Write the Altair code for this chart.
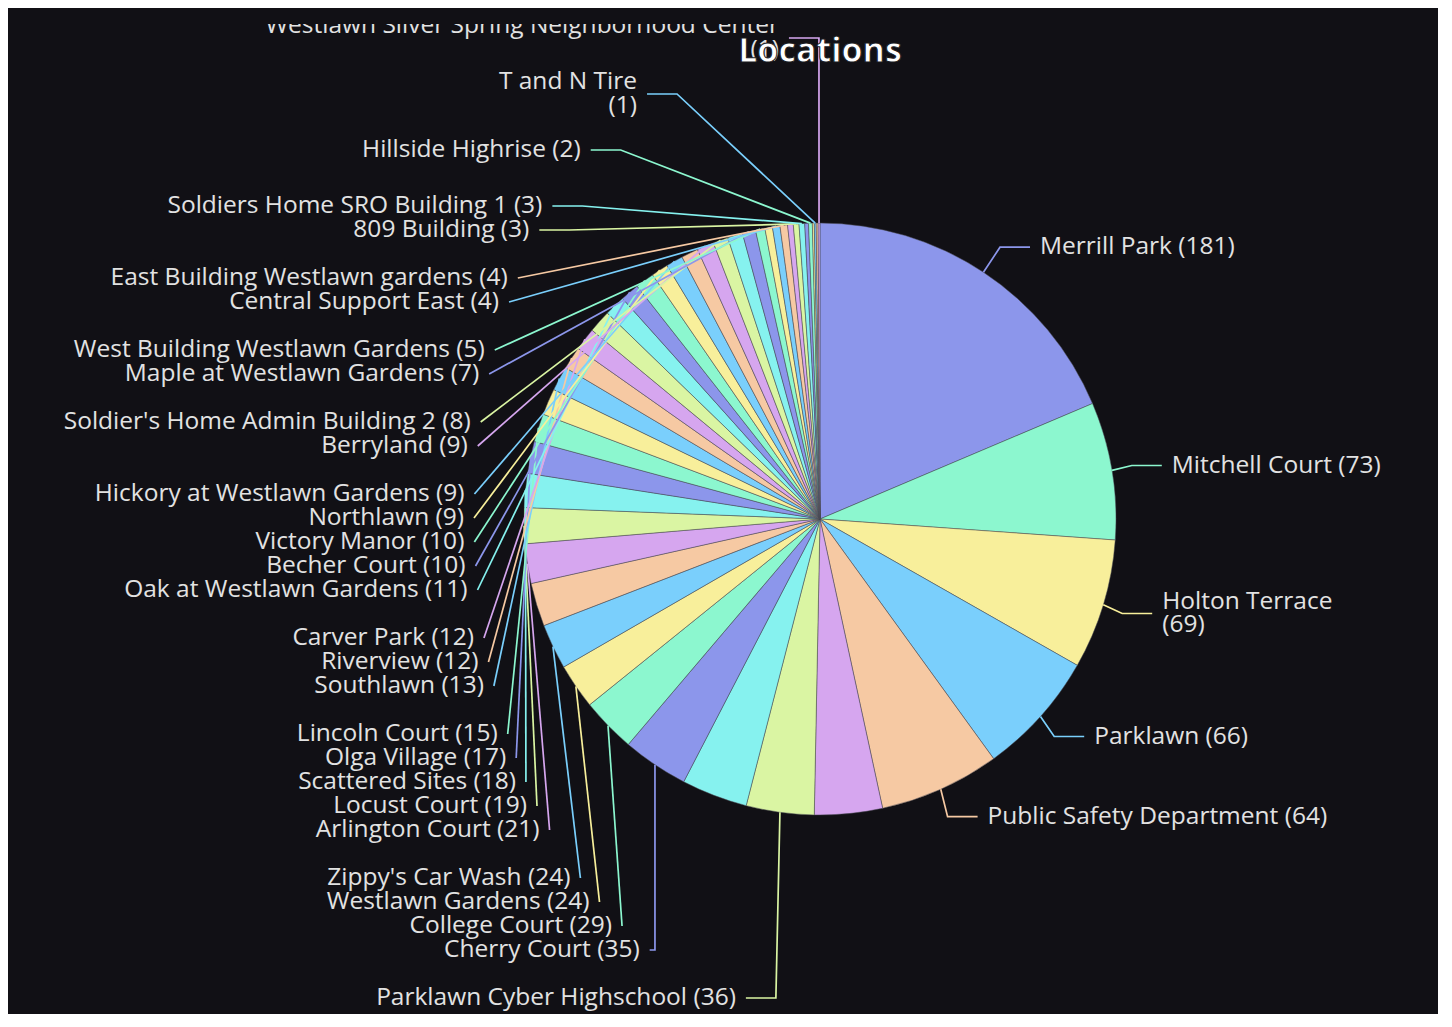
import math
import altair as alt
import pandas as pd

# ---------------- data ----------------
# slices in clockwise order from 12 o'clock; None = slice whose label is not shown
names = [
    "Merrill Park", "Mitchell Court", "Holton Terrace", "Parklawn", "Public Safety Department",
    None, "Parklawn Cyber Highschool", None, "Cherry Court", "College Court",
    "Westlawn Gardens", "Zippy's Car Wash", None, "Arlington Court", "Locust Court",
    "Scattered Sites", "Olga Village", "Lincoln Court", None, "Southlawn",
    "Riverview", "Carver Park", None, "Oak at Westlawn Gardens", "Becher Court",
    "Victory Manor", "Northlawn", "Hickory at Westlawn Gardens", None, "Berryland",
    "Soldier's Home Admin Building 2", None, "Maple at Westlawn Gardens", "West Building Westlawn Gardens", None,
    "Central Support East", "East Building Westlawn gardens", None, "809 Building", "Soldiers Home SRO Building 1",
    None, "Hillside Highrise", None, "T and N Tire", None,
    "Westlawn Silver Spring Neighborhood Center",
]
values = [
    181, 73, 69, 66, 64,
    36, 36, 35, 35, 29,
    24, 24, 23, 21, 19,
    18, 17, 15, 14, 13,
    12, 12, 12, 11, 10,
    10, 9, 9, 9, 9,
    8, 8, 7, 5, 4,
    4, 4, 3, 3, 3,
    2, 2, 1, 1, 1,
    1,
]
wrapped = ["Holton Terrace", "T and N Tire", "Westlawn Silver Spring Neighborhood Center"]
palette = ["#8c96eb", "#8cf7cf", "#f8ef9b", "#7acffc", "#f6c9a3", "#d6a6ef", "#daf5a3", "#86f2ef"]
title_text = "Locations"

# ---------------- layout constants ----------------
W, V = 1430, 988
PAD_TOP, PAD_BOTTOM = 16, 2
CX, CY, R = 812, 495, 296
LEN1, LEN2, DIST = 30, 30, 10
RECT_H = 28
FONT = "Open Sans"
FS = 24.5
LH = 23.5
BG = "#111015"

n = len(values)
total = sum(values)

# ---------------- pie label layout (shift on Y, align on ellipse) ----------------
items = []
acc = 0
for i, (nm, v) in enumerate(zip(names, values)):
    a = 2 * math.pi * (acc + v / 2) / total
    acc += v
    nx, ny = math.sin(a), -math.cos(a)
    d = 1 if nx >= 0 else -1
    x1, y1 = CX + R * nx, CY + R * ny
    x2, y2 = CX + (R + LEN1) * nx, CY + (R + LEN1) * ny
    x3 = x2 + d * LEN2
    items.append({"i": i, "name": nm, "v": v, "nx": nx, "ny": ny,
                  "pts": [[x1, y1], [x2, y2], [x3, y2]],
                  "lx": x3 + d * DIST, "ly": y2, "h": RECT_H})


def shift_layout(lst, lo, hi):
    m = len(lst)
    if m < 2:
        return
    lst.sort(key=lambda it: it["ly"] - it["h"] / 2)

    def top(it):
        return it["ly"] - it["h"] / 2

    last = 0
    for it in lst:
        delta = top(it) - last
        if delta < 0:
            it["ly"] -= delta
        last = top(it) + it["h"]

    def shift_list(dv, a, b):
        for k in range(a, b):
            lst[k]["ly"] += dv

    def squeeze(delta, maxp):
        gaps = [max(top(lst[k]) - top(lst[k - 1]) - lst[k - 1]["h"], 0) for k in range(1, m)]
        tg = sum(gaps)
        if not tg:
            return
        p = min(abs(delta) / tg, maxp)
        if delta > 0:
            for k in range(m - 1):
                shift_list(gaps[k] * p, 0, k + 1)
        else:
            for k in range(m - 1, 0, -1):
                shift_list(-gaps[k - 1] * p, k, m)

    def gaps_mm():
        return top(lst[0]) - lo, hi - top(lst[-1]) - lst[-1]["h"]

    mn, mx = gaps_mm()
    if mn < 0:
        squeeze(-mn, 0.8)
    if mx < 0:
        squeeze(mx, 0.8)
    mn, mx = gaps_mm()

    def take(g_this, g_other, mdir):
        if g_this < 0:
            mv = min(g_other, -g_this)
            if mv > 0:
                shift_list(mv * mdir, 0, m)
                rem = mv + g_this
                if rem < 0:
                    squeeze(-rem * mdir, 1)
            else:
                squeeze(-g_this * mdir, 1)

    take(mn, mx, 1)
    take(mx, mn, -1)
    mn, mx = gaps_mm()

    def bail(delta):
        dr = -1 if delta < 0 else 1
        delta = abs(delta)
        step = math.ceil(delta / (m - 1))
        for k in range(m - 1):
            if dr > 0:
                shift_list(step, 0, k + 1)
            else:
                shift_list(-step, m - k - 1, m)
            delta -= step
            if delta <= 0:
                return

    if mn < 0:
        bail(-mn)
    if mx < 0:
        bail(mx)


def recalc_x(lst, d):
    semis = [{"list": [], "maxY": 0, "rB": None}, {"list": [], "maxY": 0, "rB": None}]
    rA = R + LEN1
    for it in lst:
        semi = semis[1] if it["ly"] > CY else semis[0]
        dy = abs(it["ly"] - CY)
        if dy >= semi["maxY"]:
            dx = it["lx"] - CX - LEN2 * d
            rB = math.sqrt(dy * dy / (1 - dx * dx / rA / rA)) if abs(dx) < rA else rA
            semi["rB"] = rB
            semi["maxY"] = dy
        semi["list"].append(it)
    for semi in semis:
        rB = semi["rB"]
        for it in semi["list"]:
            dy = abs(it["ly"] - CY)
            dx = math.sqrt(max(0.0, 1 - dy * dy / (rB * rB)) * rA * rA) if rB else rA
            it["lx"] = CX + (dx + LEN2) * d


left = [it for it in items if it["lx"] < CX]
right = [it for it in items if it["lx"] >= CX]
for side, d in ((right, 1), (left, -1)):
    shift_layout(side, 0, V)
    recalc_x(side, d)


def project(p1, p2, p0):
    vx, vy = p2[0] - p1[0], p2[1] - p1[1]
    L2 = vx * vx + vy * vy
    t = ((p0[0] - p1[0]) * vx + (p0[1] - p1[1]) * vy) / L2
    px, py = p1[0] + t * vx, p1[1] + t * vy
    return [px, py], math.hypot(p0[0] - px, p0[1] - py)


def clamp_on(p1, p2, q):
    t = (q[0] - p1[0]) / (p2[0] - p1[0]) if p2[0] != p1[0] else (q[1] - p1[1]) / (p2[1] - p1[1])
    if t < 0:
        return list(p1)
    if t > 1:
        return list(p2)
    return q


def limit_turn(pts, deg=90):
    a = math.radians(deg)
    p0, p1, p2 = pts
    d1 = (p0[0] - p1[0], p0[1] - p1[1])
    d2 = (p2[0] - p1[0], p2[1] - p1[1])
    l1, l2 = math.hypot(*d1), math.hypot(*d2)
    if l1 < 1e-3 or l2 < 1e-3:
        return
    u1 = (d1[0] / l1, d1[1] / l1)
    u2 = (d2[0] / l2, d2[1] / l2)
    if math.cos(a) < u1[0] * u2[0] + u1[1] * u2[1]:
        q, dd = project(p1, p2, p0)
        k = dd / math.tan(math.pi - a)
        q = [q[0] + u2[0] * k, q[1] + u2[1] * k]
        pts[1] = clamp_on(p1, p2, q)


def limit_surface(pts, normal, deg=90):
    a = math.radians(deg)
    p0, p1, p2 = pts
    d1 = (p1[0] - p0[0], p1[1] - p0[1])
    d2 = (p2[0] - p1[0], p2[1] - p1[1])
    l1, l2 = math.hypot(*d1), math.hypot(*d2)
    if l1 < 1e-3 or l2 < 1e-3:
        return
    u1 = (d1[0] / l1, d1[1] / l1)
    u2 = (d2[0] / l2, d2[1] / l2)
    if u1[0] * normal[0] + u1[1] * normal[1] < math.cos(a):
        q, dd = project(p1, p2, p0)
        ang2 = math.acos(max(-1.0, min(1.0, u2[0] * normal[0] + u2[1] * normal[1])))
        new = math.pi / 2 + ang2 - a
        if new >= math.pi / 2:
            q = list(p2)
        else:
            k = dd / math.tan(math.pi / 2 - new)
            q = clamp_on(p1, p2, [q[0] + u2[0] * k, q[1] + u2[1] * k])
        pts[1] = q


for it in items:
    pts = it["pts"]
    dist = pts[1][0] - pts[2][0]
    if it["lx"] < CX:
        pts[2][0] = it["lx"] + DIST
    else:
        pts[2][0] = it["lx"] - DIST
    pts[1][0] = pts[2][0] + dist
    pts[1][1] = pts[2][1] = it["ly"]
    limit_turn(pts)
    limit_surface(pts, (it["nx"], it["ny"]))

# ---------------- tables ----------------
slices = pd.DataFrame({"idx": list(range(n)), "value": values,
                       "name": [nm if nm else "" for nm in names]})

line_rows, label_rows = [], []
for it in items:
    if not it["name"]:
        continue
    for k, p in enumerate(it["pts"]):
        line_rows.append({"idx": it["i"], "k": k, "x": p[0], "y": p[1]})
    is_wrapped = it["name"] in wrapped
    sep = "\n" if is_wrapped else " "
    nlines = 2 if is_wrapped else 1
    label_rows.append({"idx": it["i"], "x": it["lx"],
                       # first line sits at y: centre the text block on the label position
                       "y": it["ly"] - (nlines - 1) * LH / 2,
                       "label": f"{it['name']}{sep}({it['v']})",
                       "side": "L" if it["lx"] < CX else "R"})
line_df = pd.DataFrame(line_rows)
label_df = pd.DataFrame(label_rows)

# ---------------- chart ----------------
sx = alt.Scale(domain=[0, W], nice=False, zero=False)
sy = alt.Scale(domain=[0, V], nice=False, zero=False, reverse=True)
color_scale = alt.Scale(domain=list(range(n)), range=[palette[i % len(palette)] for i in range(n)])

pie = alt.Chart(slices).mark_arc(outerRadius=R, stroke="#4a4a55", strokeWidth=0.5).encode(
    theta=alt.Theta("value:Q", stack=True),
    order=alt.Order("idx:Q", sort="ascending"),
    color=alt.Color("idx:N", scale=color_scale, legend=None),
    x=alt.value(CX),
    y=alt.value(CY),
)

guides = alt.Chart(line_df).mark_line(strokeWidth=1.7).encode(
    x=alt.X("x:Q", scale=sx, axis=None),
    y=alt.Y("y:Q", scale=sy, axis=None),
    color=alt.Color("idx:N", scale=color_scale, legend=None),
    detail="idx:N",
    order=alt.Order("k:Q"),
)


def text_layer(side, align):
    return alt.Chart(label_df).mark_text(
        align=align, baseline="middle", font=FONT, fontSize=FS,
        lineBreak="\n", lineHeight=LH, clip=True, fill="#e2e2e2",
    ).transform_filter(alt.datum.side == side).encode(
        x=alt.X("x:Q", scale=sx, axis=None),
        y=alt.Y("y:Q", scale=sy, axis=None),
        text="label:N",
    )


title = alt.Chart(pd.DataFrame({"t": [title_text]})).mark_text(
    font=FONT, fontSize=34, fontWeight="bold", fill="#ffffff", stroke="#1a1a1e", strokeWidth=1,
    baseline="middle", align="center",
).encode(x=alt.value(CX), y=alt.value(28), text="t:N")

chart = alt.layer(
    pie, guides,
    text_layer("L", "right"), text_layer("R", "left"),
    title,
).properties(
    width=W, height=V,
    padding={"top": PAD_TOP, "left": 0, "right": 0, "bottom": PAD_BOTTOM},
    autosize=alt.AutoSizeParams(type="none"),
    background=BG,
).configure_view(stroke=None)

chart.save("out.html", embed_options={"renderer": "svg", "actions": False})
